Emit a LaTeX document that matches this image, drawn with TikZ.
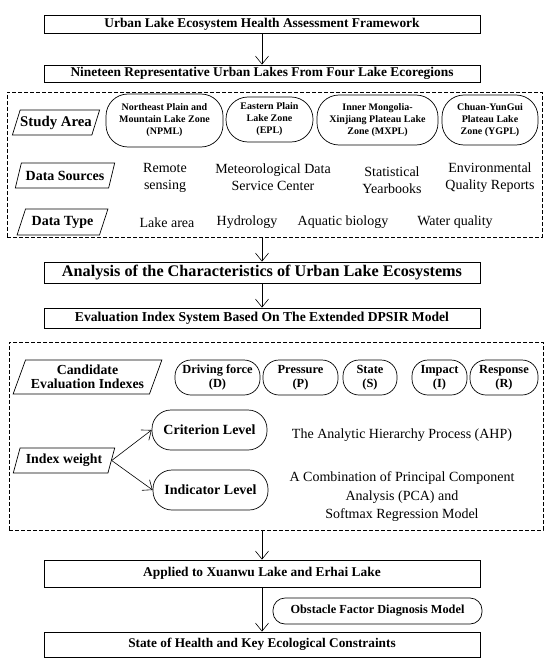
\documentclass[tikz,border=0pt]{standalone}
\usepackage{fontspec}
\setmainfont{Liberation Serif}
\usetikzlibrary{shapes.geometric,arrows.meta}

\tikzset{
  mainbox/.style={draw, line width=0.8pt, minimum width=436pt, font=\bfseries\fontsize{13.4}{15}\selectfont, inner sep=0pt},
  dashbox/.style={draw, dash pattern=on 4pt off 2pt, line width=0.7pt, inner sep=0pt},
  zone/.style={draw, rectangle, rounded corners=22pt, line width=0.7pt, align=center, inner sep=0pt, font=\bfseries\fontsize{10}{12}\selectfont},
  dpsir/.style={draw, rectangle, rounded corners=16pt, line width=0.7pt, align=center, inner sep=0pt, minimum height=35pt, font=\bfseries\fontsize{12.4}{14}\selectfont},
  level/.style={draw, rectangle, rounded corners=19pt, line width=0.7pt, minimum width=115pt, minimum height=40pt, font=\bfseries\fontsize{14}{16}\selectfont},
  slantbox/.style={draw, trapezium, trapezium left angle=60, trapezium right angle=120, trapezium stretches=true, line width=0.7pt, inner sep=0pt, align=center},
  plain/.style={align=center, font=\fontsize{14}{17}\selectfont},
  arr/.style={-{Straight Barb[length=8pt,width=13pt]}, line width=0.6pt}
}

\begin{document}
\begin{tikzpicture}[x=1pt,y=-1pt]
\useasboundingbox (0,0) rectangle (550,669);

% top boxes
\node[mainbox, minimum height=18pt] (frame) at (262,24) {Urban Lake Ecosystem Health Assessment Framework};
\node[mainbox, minimum height=17pt] (lakes) at (262,73.5) {Nineteen Representative Urban Lakes From Four Lake Ecoregions};

% data block
\node[dashbox, minimum width=535pt, minimum height=145pt] (data) at (274.5,164.5) {};
\node[slantbox, minimum width=82pt, minimum height=25pt, font=\bfseries\fontsize{14.8}{16}\selectfont] (area) at (56,122.5) {Study Area};
\node[zone, minimum width=117pt, minimum height=53pt] (npml) at (164.5,120.5) {Northeast Plain and\\Mountain Lake Zone\\(NPML)};
\node[zone, minimum width=87pt, minimum height=45pt] (epl) at (269.5,119.5) {Eastern Plain\\Lake Zone\\(EPL)};
\node[zone, minimum width=121pt, minimum height=50pt] (mxpl) at (377.5,120) {Inner Mongolia-\\Xinjiang Plateau Lake\\Zone (MXPL)};
\node[zone, minimum width=96pt, minimum height=50pt] (ygpl) at (490,120) {Chuan-YunGui\\Plateau Lake\\Zone (YGPL)};

\node[slantbox, minimum width=100pt, minimum height=25pt, font=\bfseries\fontsize{14}{16}\selectfont] (sources) at (65,175.5) {Data Sources};
\node[plain] (rs) at (165,178) {Remote\\sensing};
\node[plain] (met) at (273,177.5) {Meteorological Data\\Service Center};
\node[plain] (stat) at (392,180) {Statistical\\Yearbooks};
\node[plain] (env) at (490,177.5) {Environmental\\Quality Reports};

\node[slantbox, minimum width=91pt, minimum height=26pt, font=\bfseries\fontsize{14}{16}\selectfont] (dtype) at (62.5,222) {Data Type};
\node[plain] (la) at (167,222.5) {Lake area};
\node[plain] (hy) at (247,222.5) {Hydrology};
\node[plain] (aq) at (343,222.5) {Aquatic biology};
\node[plain] (wq) at (455,222.5) {Water quality};

% middle boxes
\node[mainbox, minimum height=21pt, font=\bfseries\fontsize{16.2}{18}\selectfont] (analysis) at (262,272.5) {Analysis of the Characteristics of Urban Lake Ecosystems};
\node[mainbox, minimum height=20pt, font=\bfseries\fontsize{13.6}{15}\selectfont] (system) at (262,318) {Evaluation Index System Based On The Extended DPSIR Model};

% index block
\node[dashbox, minimum width=534pt, minimum height=188pt] (index) at (276,436) {};
\node[slantbox, trapezium left angle=65, trapezium right angle=115, minimum width=149pt, minimum height=34pt, font=\bfseries\fontsize{13.8}{14.5}\selectfont] (cand) at (87.5,377) {Candidate\\Evaluation Indexes};
\node[dpsir, minimum width=85pt] (drv) at (217.5,377.5) {Driving force\\(D)};
\node[dpsir, minimum width=75pt] (prs) at (300.5,377.5) {Pressure\\(P)};
\node[dpsir, minimum width=54pt] (sta) at (370,377.5) {State\\(S)};
\node[dpsir, minimum width=55pt] (imp) at (439.5,377.5) {Impact\\(I)};
\node[dpsir, minimum width=68pt] (rsp) at (504,377.5) {Response\\(R)};

\node[slantbox, trapezium left angle=65, trapezium right angle=115, minimum width=102pt, minimum height=25pt, font=\bfseries\fontsize{13.8}{15}\selectfont] (weight) at (64,460.5) {Index weight};
\node[level] (crit) at (209.5,430) {Criterion Level};
\node[level] (indic) at (210.5,490) {Indicator Level};
\draw[arr] (weight.east) -- (crit.west);
\draw[arr] (weight.east) -- (indic.west);
\node[plain] (ahp) at (402,435) {The Analytic Hierarchy Process (AHP)};
\node[plain, font=\fontsize{14}{18.5}\selectfont] (pca) at (402,497) {A Combination of Principal Component\\Analysis (PCA) and\\Softmax Regression Model};

% bottom boxes
\node[mainbox, minimum height=27pt] (apply) at (262,573.5) {Applied to Xuanwu Lake and Erhai Lake};
\node[draw, rectangle, rounded corners=12pt, line width=0.7pt, minimum width=209pt, minimum height=26pt, font=\bfseries\fontsize{12.3}{14}\selectfont] (obst) at (377.5,611) {Obstacle Factor Diagnosis Model};
\node[mainbox, minimum height=25pt, font=\bfseries\fontsize{13.3}{15}\selectfont] (health) at (262,644.5) {State of Health and Key Ecological Constraints};

% flow
\draw[arr] (frame) -- (lakes);
\draw[arr] (data.south -| analysis) -- (analysis);
\draw[arr] (analysis) -- (system);
\draw[arr] (index.south -| apply) -- (apply);
\draw[arr] (apply) -- (health);
\end{tikzpicture}
\end{document}
